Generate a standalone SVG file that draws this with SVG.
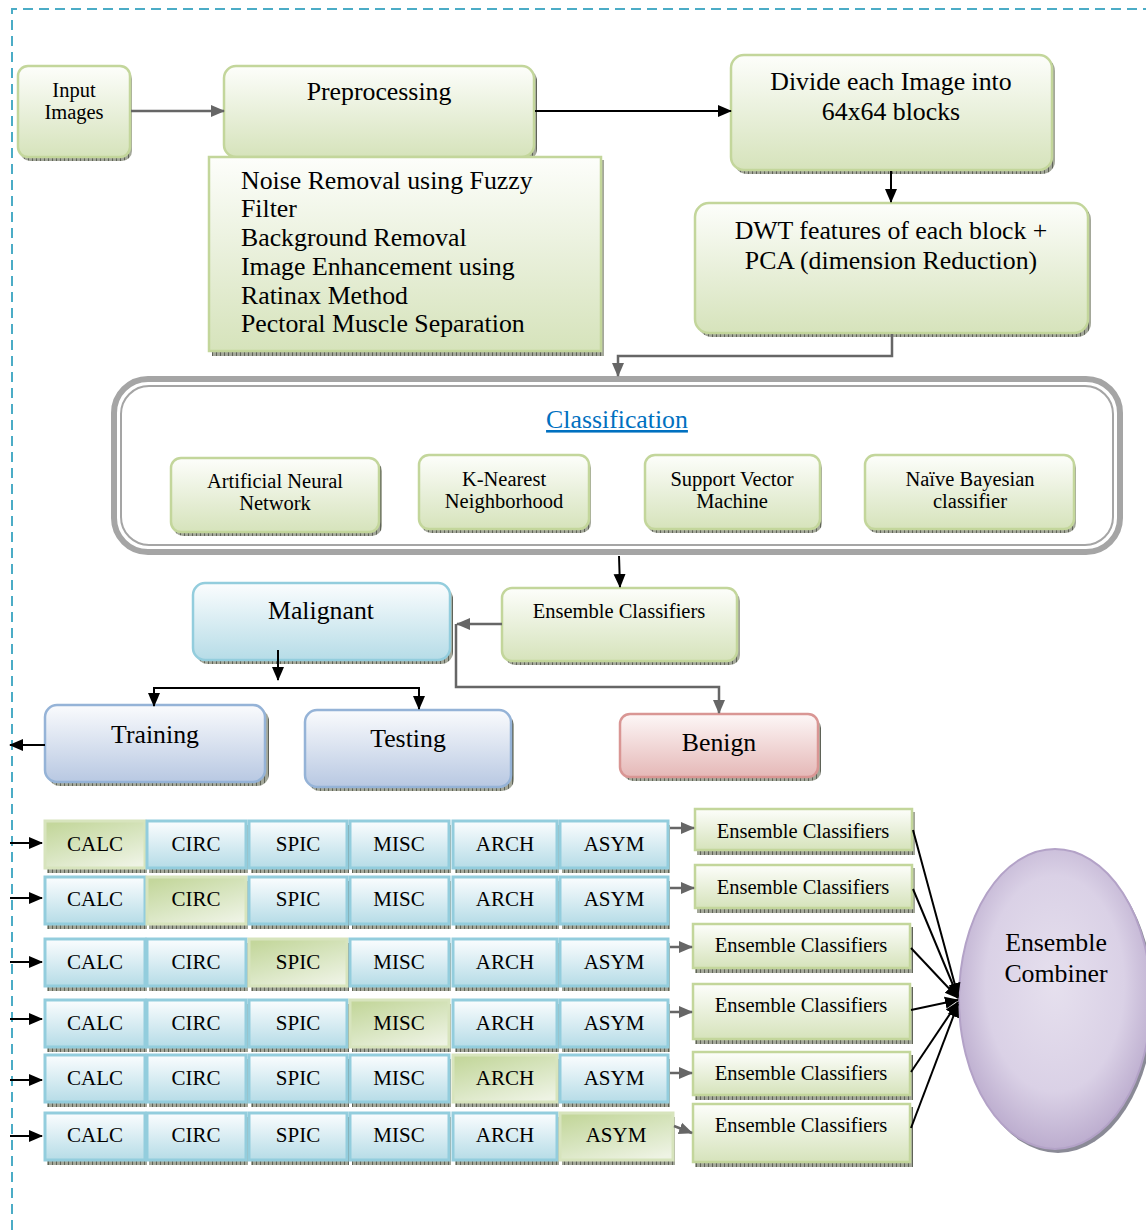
<svg xmlns="http://www.w3.org/2000/svg" width="1146" height="1230" viewBox="0 0 1146 1230">
<defs>
<style>
.t{font-family:"Liberation Serif","Times New Roman",serif;fill:#000}
.c{text-anchor:middle}
.f25{font-size:25.8px}.f24{font-size:25.8px}.f20{font-size:21px}.f18{font-size:20.5px}
.gn{fill:url(#gG);stroke:#c3d69b;stroke-width:2.5}
.bl{fill:url(#gB);stroke:#93cddd;stroke-width:2.5}
.tb{fill:url(#gT);stroke:#95b3d7;stroke-width:2.5}
.rd{fill:url(#gR);stroke:#d99694;stroke-width:2.5}
.cb{fill:url(#gB);stroke:#93cddd;stroke-width:3}
.cg{fill:url(#gGD);stroke:#d7e4bd;stroke-width:3}
.sh{fill:url(#hatch)}
.ab{fill:none;stroke:#000;stroke-width:2;marker-end:url(#mB)}
.ag{fill:none;stroke:#666;stroke-width:2.5;marker-end:url(#mG)}
</style>
<linearGradient id="gG" x1="0" y1="0" x2="0" y2="1"><stop offset="0" stop-color="#fdfefb"/><stop offset="0.5" stop-color="#e9f0db"/><stop offset="1" stop-color="#d6e3bb"/></linearGradient>
<linearGradient id="gB" x1="0" y1="0" x2="0" y2="1"><stop offset="0" stop-color="#fbfdfe"/><stop offset="1" stop-color="#b6dce7"/></linearGradient>
<linearGradient id="gT" x1="0" y1="0" x2="0" y2="1"><stop offset="0" stop-color="#fafbfd"/><stop offset="1" stop-color="#b8c8e2"/></linearGradient>
<linearGradient id="gR" x1="0" y1="0" x2="0" y2="1"><stop offset="0" stop-color="#fdf7f7"/><stop offset="1" stop-color="#e5b8b7"/></linearGradient>
<linearGradient id="gGD" x1="0.2" y1="0" x2="0.8" y2="1"><stop offset="0" stop-color="#c4d79c"/><stop offset="0.5" stop-color="#d8e5c0"/><stop offset="1" stop-color="#eef3e4"/></linearGradient>
<radialGradient id="gP" cx="0.5" cy="0.45" r="0.6"><stop offset="0" stop-color="#e6e0ee"/><stop offset="0.6" stop-color="#dad1e6"/><stop offset="1" stop-color="#b4a3c8"/></radialGradient>
<pattern id="hatch" patternUnits="userSpaceOnUse" width="4" height="6"><rect width="4" height="6" fill="#a4a89a"/><line x1="0.5" y1="0" x2="0.5" y2="6" stroke="#5f6358" stroke-width="1"/></pattern>
<marker id="mB" markerUnits="userSpaceOnUse" markerWidth="14" markerHeight="14" viewBox="0 0 14 14" refX="13" refY="7" orient="auto"><path d="M0,1 L14,7 L0,13 Z" fill="#000"/></marker>
<marker id="mG" markerUnits="userSpaceOnUse" markerWidth="14" markerHeight="14" viewBox="0 0 14 14" refX="13" refY="7" orient="auto"><path d="M0,1 L14,7 L0,13 Z" fill="#666"/></marker>
</defs>
<rect width="1146" height="1230" fill="#fff"/>
<g id="frame" fill="none" stroke="#4bacc6" stroke-width="2" stroke-dasharray="10,6">
<path d="M12,1230 V9 H1146"/>
</g>

<g id="input-images">
<rect class="sh" x="20" y="69" width="112" height="92" rx="10"/>
<rect class="gn" x="18" y="66" width="112" height="91" rx="10"/>
<text class="t c f18" x="74" y="97">Input</text>
<text class="t c f18" x="74" y="119">Images</text>
</g>
<g id="preprocessing">
<rect class="sh" x="227" y="69" width="310" height="92" rx="12"/>
<rect class="gn" x="224" y="66" width="310" height="91" rx="12"/>
<text class="t c f24" x="379" y="100">Preprocessing</text>
</g>
<g id="preprocessing-steps">
<rect class="sh" x="212" y="160" width="392" height="196"/>
<rect class="gn" x="209" y="157" width="392" height="194"/>
<text class="t f25" x="241" y="189">Noise Removal using Fuzzy</text>
<text class="t f25" x="241" y="217">Filter</text>
<text class="t f25" x="241" y="246">Background Removal</text>
<text class="t f25" x="241" y="275">Image Enhancement using</text>
<text class="t f25" x="241" y="304">Ratinax Method</text>
<text class="t f25" x="241" y="332">Pectoral Muscle Separation</text>
</g>
<g id="divide">
<rect class="sh" x="734" y="58" width="321" height="116" rx="13"/>
<rect class="gn" x="731" y="55" width="321" height="115" rx="13"/>
<text class="t c f24" x="891" y="90">Divide each Image into</text>
<text class="t c f24" x="891" y="120">64x64 blocks</text>
</g>
<g id="dwt">
<rect class="sh" x="698" y="206" width="393" height="131" rx="14"/>
<rect class="gn" x="695" y="203" width="393" height="130" rx="14"/>
<text class="t c f24" x="891" y="239">DWT features of each block +</text>
<text class="t c f24" x="891" y="269">PCA (dimension Reduction)</text>
</g>

<g id="classification">
<rect x="114" y="379" width="1006" height="173" rx="34" fill="#fff" stroke="#a5a5a5" stroke-width="6"/>
<rect x="121" y="386" width="992" height="159" rx="28" fill="none" stroke="#a5a5a5" stroke-width="2"/>
<text class="t c f24" x="617" y="428" style="fill:#0070c0" text-decoration="underline">Classification</text>
</g>
<g id="ann">
<rect class="sh" x="173" y="461" width="209" height="75" rx="10"/>
<rect class="gn" x="171" y="458" width="208" height="74" rx="10"/>
<text class="t c f18" x="275" y="488">Artificial Neural</text>
<text class="t c f18" x="275" y="510">Network</text>
</g>
<g id="knn">
<rect class="sh" x="421" y="458" width="170" height="75" rx="10"/>
<rect class="gn" x="419" y="455" width="170" height="74" rx="10"/>
<text class="t c f18" x="504" y="486">K-Nearest</text>
<text class="t c f18" x="504" y="508">Neighborhood</text>
</g>
<g id="svm">
<rect class="sh" x="647" y="458" width="175" height="75" rx="10"/>
<rect class="gn" x="645" y="455" width="175" height="74" rx="10"/>
<text class="t c f18" x="732" y="486">Support Vector</text>
<text class="t c f18" x="732" y="508">Machine</text>
</g>
<g id="naive-bayes">
<rect class="sh" x="867" y="458" width="209" height="75" rx="10"/>
<rect class="gn" x="865" y="455" width="209" height="74" rx="10"/>
<text class="t c f18" x="970" y="486">Naïve Bayesian</text>
<text class="t c f18" x="970" y="508">classifier</text>
</g>

<g id="ensemble-top">
<rect class="sh" x="505" y="591" width="235" height="74" rx="10"/>
<rect class="gn" x="502" y="588" width="235" height="73" rx="10"/>
<text class="t c f18" x="619" y="618">Ensemble Classifiers</text>
</g>
<g id="malignant">
<rect class="sh" x="196" y="587" width="257" height="77" rx="12"/>
<rect class="bl" x="193" y="583" width="257" height="77" rx="12"/>
<text class="t c f24" x="321" y="619">Malignant</text>
</g>
<g id="training">
<rect class="sh" x="48" y="709" width="221" height="77" rx="12"/>
<rect class="tb" x="45" y="705" width="220" height="77" rx="12"/>
<text class="t c f24" x="155" y="743">Training</text>
</g>
<g id="testing">
<rect class="sh" x="308" y="714" width="206" height="77" rx="12"/>
<rect class="tb" x="305" y="710" width="206" height="77" rx="12"/>
<text class="t c f24" x="408" y="747">Testing</text>
</g>
<g id="benign">
<rect class="sh" x="623" y="718" width="198" height="63" rx="10"/>
<rect class="rd" x="620" y="714" width="198" height="63" rx="10"/>
<text class="t c f24" x="719" y="751">Benign</text>
</g>

<g id="grid">
<g id="row1">
<rect class="sh" x="47" y="825" width="100" height="48"/><rect class="cg" x="45" y="821" width="100" height="47"/><text class="t c f20" x="95" y="851">CALC</text>
<rect class="sh" x="149" y="825" width="99" height="48"/><rect class="cb" x="147" y="821" width="99" height="47"/><text class="t c f20" x="196" y="851">CIRC</text>
<rect class="sh" x="251" y="825" width="98" height="48"/><rect class="cb" x="249" y="821" width="98" height="47"/><text class="t c f20" x="298" y="851">SPIC</text>
<rect class="sh" x="352" y="825" width="99" height="48"/><rect class="cb" x="350" y="821" width="99" height="47"/><text class="t c f20" x="399" y="851">MISC</text>
<rect class="sh" x="455" y="825" width="104" height="48"/><rect class="cb" x="453" y="821" width="104" height="47"/><text class="t c f20" x="505" y="851">ARCH</text>
<rect class="sh" x="562" y="825" width="108" height="48"/><rect class="cb" x="560" y="821" width="108" height="47"/><text class="t c f20" x="614" y="851">ASYM</text>
</g>
<g id="row2">
<rect class="sh" x="47" y="881" width="100" height="48"/><rect class="cb" x="45" y="877" width="100" height="47"/><text class="t c f20" x="95" y="906">CALC</text>
<rect class="sh" x="149" y="881" width="99" height="48"/><rect class="cg" x="147" y="877" width="99" height="47"/><text class="t c f20" x="196" y="906">CIRC</text>
<rect class="sh" x="251" y="881" width="98" height="48"/><rect class="cb" x="249" y="877" width="98" height="47"/><text class="t c f20" x="298" y="906">SPIC</text>
<rect class="sh" x="352" y="881" width="99" height="48"/><rect class="cb" x="350" y="877" width="99" height="47"/><text class="t c f20" x="399" y="906">MISC</text>
<rect class="sh" x="455" y="881" width="104" height="48"/><rect class="cb" x="453" y="877" width="104" height="47"/><text class="t c f20" x="505" y="906">ARCH</text>
<rect class="sh" x="562" y="881" width="108" height="48"/><rect class="cb" x="560" y="877" width="108" height="47"/><text class="t c f20" x="614" y="906">ASYM</text>
</g>
<g id="row3">
<rect class="sh" x="47" y="943" width="100" height="48"/><rect class="cb" x="45" y="939" width="100" height="47"/><text class="t c f20" x="95" y="969">CALC</text>
<rect class="sh" x="149" y="943" width="99" height="48"/><rect class="cb" x="147" y="939" width="99" height="47"/><text class="t c f20" x="196" y="969">CIRC</text>
<rect class="sh" x="251" y="943" width="98" height="48"/><rect class="cg" x="249" y="939" width="98" height="47"/><text class="t c f20" x="298" y="969">SPIC</text>
<rect class="sh" x="352" y="943" width="99" height="48"/><rect class="cb" x="350" y="939" width="99" height="47"/><text class="t c f20" x="399" y="969">MISC</text>
<rect class="sh" x="455" y="943" width="104" height="48"/><rect class="cb" x="453" y="939" width="104" height="47"/><text class="t c f20" x="505" y="969">ARCH</text>
<rect class="sh" x="562" y="943" width="108" height="48"/><rect class="cb" x="560" y="939" width="108" height="47"/><text class="t c f20" x="614" y="969">ASYM</text>
</g>
<g id="row4">
<rect class="sh" x="47" y="1004" width="100" height="48"/><rect class="cb" x="45" y="1000" width="100" height="47"/><text class="t c f20" x="95" y="1030">CALC</text>
<rect class="sh" x="149" y="1004" width="99" height="48"/><rect class="cb" x="147" y="1000" width="99" height="47"/><text class="t c f20" x="196" y="1030">CIRC</text>
<rect class="sh" x="251" y="1004" width="98" height="48"/><rect class="cb" x="249" y="1000" width="98" height="47"/><text class="t c f20" x="298" y="1030">SPIC</text>
<rect class="sh" x="352" y="1004" width="99" height="48"/><rect class="cg" x="350" y="1000" width="99" height="47"/><text class="t c f20" x="399" y="1030">MISC</text>
<rect class="sh" x="455" y="1004" width="104" height="48"/><rect class="cb" x="453" y="1000" width="104" height="47"/><text class="t c f20" x="505" y="1030">ARCH</text>
<rect class="sh" x="562" y="1004" width="108" height="48"/><rect class="cb" x="560" y="1000" width="108" height="47"/><text class="t c f20" x="614" y="1030">ASYM</text>
</g>
<g id="row5">
<rect class="sh" x="47" y="1059" width="100" height="48"/><rect class="cb" x="45" y="1055" width="100" height="47"/><text class="t c f20" x="95" y="1085">CALC</text>
<rect class="sh" x="149" y="1059" width="99" height="48"/><rect class="cb" x="147" y="1055" width="99" height="47"/><text class="t c f20" x="196" y="1085">CIRC</text>
<rect class="sh" x="251" y="1059" width="98" height="48"/><rect class="cb" x="249" y="1055" width="98" height="47"/><text class="t c f20" x="298" y="1085">SPIC</text>
<rect class="sh" x="352" y="1059" width="99" height="48"/><rect class="cb" x="350" y="1055" width="99" height="47"/><text class="t c f20" x="399" y="1085">MISC</text>
<rect class="sh" x="455" y="1059" width="104" height="48"/><rect class="cg" x="453" y="1055" width="104" height="47"/><text class="t c f20" x="505" y="1085">ARCH</text>
<rect class="sh" x="562" y="1059" width="108" height="48"/><rect class="cb" x="560" y="1055" width="108" height="47"/><text class="t c f20" x="614" y="1085">ASYM</text>
</g>
<g id="row6">
<rect class="sh" x="47" y="1117" width="100" height="48"/><rect class="cb" x="45" y="1113" width="100" height="47"/><text class="t c f20" x="95" y="1142">CALC</text>
<rect class="sh" x="149" y="1117" width="99" height="48"/><rect class="cb" x="147" y="1113" width="99" height="47"/><text class="t c f20" x="196" y="1142">CIRC</text>
<rect class="sh" x="251" y="1117" width="98" height="48"/><rect class="cb" x="249" y="1113" width="98" height="47"/><text class="t c f20" x="298" y="1142">SPIC</text>
<rect class="sh" x="352" y="1117" width="99" height="48"/><rect class="cb" x="350" y="1113" width="99" height="47"/><text class="t c f20" x="399" y="1142">MISC</text>
<rect class="sh" x="455" y="1117" width="104" height="48"/><rect class="cb" x="453" y="1113" width="104" height="47"/><text class="t c f20" x="505" y="1142">ARCH</text>
<rect class="sh" x="562" y="1117" width="113" height="48"/><rect class="cg" x="560" y="1113" width="113" height="47"/><text class="t c f20" x="616" y="1142">ASYM</text>
</g>
</g>

<g id="ensemble-1"><rect class="sh" x="697" y="812" width="218" height="43"/><rect class="gn" x="695" y="809" width="217" height="41"/><text class="t c f18" x="803" y="838">Ensemble Classifiers</text></g>
<g id="ensemble-2"><rect class="sh" x="697" y="868" width="218" height="45"/><rect class="gn" x="695" y="865" width="217" height="43"/><text class="t c f18" x="803" y="894">Ensemble Classifiers</text></g>
<g id="ensemble-3"><rect class="sh" x="695" y="927" width="218" height="46"/><rect class="gn" x="693" y="924" width="217" height="44"/><text class="t c f18" x="801" y="952">Ensemble Classifiers</text></g>
<g id="ensemble-4"><rect class="sh" x="695" y="987" width="218" height="57"/><rect class="gn" x="693" y="984" width="217" height="55"/><text class="t c f18" x="801" y="1012">Ensemble Classifiers</text></g>
<g id="ensemble-5"><rect class="sh" x="695" y="1055" width="218" height="45"/><rect class="gn" x="693" y="1052" width="217" height="43"/><text class="t c f18" x="801" y="1080">Ensemble Classifiers</text></g>
<g id="ensemble-6"><rect class="sh" x="695" y="1107" width="218" height="60"/><rect class="gn" x="693" y="1104" width="217" height="58"/><text class="t c f18" x="801" y="1132">Ensemble Classifiers</text></g>

<g id="ensemble-combiner">
<ellipse cx="1058" cy="1003" rx="96" ry="150" fill="#8a8a96"/>
<ellipse cx="1055" cy="999" rx="96" ry="150" fill="url(#gP)" stroke="#b3a2c7" stroke-width="2"/>
<text class="t c f25" x="1056" y="951">Ensemble</text>
<text class="t c f25" x="1056" y="982">Combiner</text>
</g>

<g id="connectors">
<line class="ag" x1="131" y1="111" x2="224" y2="111"/>
<line class="ab" x1="535" y1="111" x2="731" y2="111"/>
<line class="ab" x1="891" y1="171" x2="891" y2="202"/>
<polyline class="ag" points="892,334 892,356 618,356 618,376"/>
<line class="ab" x1="619" y1="556" x2="620" y2="587"/>
<line class="ag" x1="502" y1="624" x2="457" y2="624"/>
<polyline class="ag" points="456,624 456,687 719,687 719,713"/>
<line class="ab" x1="278" y1="650" x2="278" y2="680"/>
<polyline class="ab" points="278,688 154,688 154,706"/>
<polyline class="ab" points="278,688 419,688 419,709"/>
<line class="ab" x1="45" y1="745" x2="10" y2="745"/>
<line class="ab" x1="10" y1="843" x2="42" y2="843"/>
<line class="ab" x1="10" y1="898" x2="42" y2="898"/>
<line class="ab" x1="10" y1="962" x2="42" y2="962"/>
<line class="ab" x1="10" y1="1019" x2="42" y2="1019"/>
<line class="ab" x1="10" y1="1080" x2="42" y2="1080"/>
<line class="ab" x1="10" y1="1136" x2="42" y2="1136"/>
<line class="ag" x1="670" y1="828" x2="694" y2="828"/>
<line class="ag" x1="670" y1="888" x2="694" y2="888"/>
<line class="ag" x1="670" y1="947" x2="692" y2="947"/>
<line class="ag" x1="670" y1="1012" x2="692" y2="1012"/>
<line class="ag" x1="670" y1="1073" x2="692" y2="1073"/>
<line class="ag" x1="674" y1="1126" x2="692" y2="1133"/>
<line class="ab" x1="913" y1="830" x2="958" y2="996"/>
<line class="ab" x1="913" y1="889" x2="958" y2="997"/>
<line class="ab" x1="911" y1="948" x2="958" y2="998"/>
<line class="ab" x1="911" y1="1010" x2="958" y2="1000"/>
<line class="ab" x1="911" y1="1072" x2="958" y2="1002"/>
<line class="ab" x1="911" y1="1128" x2="958" y2="1004"/>
</g>
</svg>
